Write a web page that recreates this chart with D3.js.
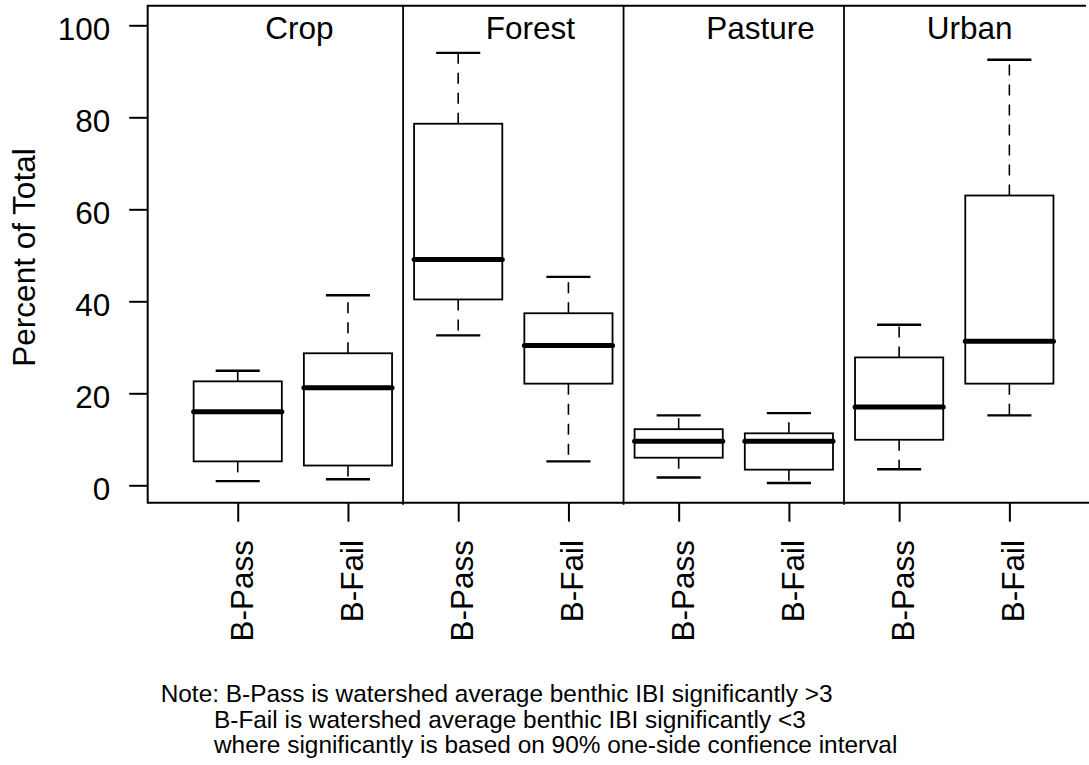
<!DOCTYPE html>
<html>
<head>
<meta charset="utf-8">
<script src="https://cdn.jsdelivr.net/npm/d3@7"></script>
<style>
body { margin: 0; background: #fff; }
text { font-family: "Liberation Sans", Arial, sans-serif; fill: #000; }
</style>
</head>
<body>
<div id="chart"></div>
<script>

// land use groups, two benthic classes each
var groups = ["Crop", "Forest", "Pasture", "Urban"]
var classes = ["B-Pass", "B-Fail"]
var titlePos = [1.25, 3.25, 5.25, 7.25]   // panel title left edge, in box units

// box stats, order: Crop pass/fail, Forest pass/fail, Pasture pass/fail, Urban pass/fail
var lowWhisker  = [0.9, 1.3, 32.6, 5.2, 1.7, 0.5, 3.5, 15.2]
var lowerHinge  = [5.2, 4.3, 40.4, 22.1, 6.0, 3.4, 9.9, 22.1]
var medians     = [16.0, 21.2, 49.1, 30.4, 9.6, 9.6, 17.0, 31.3]
var upperHinge  = [22.6, 28.7, 78.6, 37.4, 12.2, 11.3, 27.8, 63.0]
var highWhisker = [24.9, 41.3, 94.0, 45.3, 15.2, 15.7, 34.9, 92.5]

var yTicks = [0, 20, 40, 60, 80, 100]
var dividers = [2.5, 4.5, 6.5]

var noteLines = [
    "Note: B-Pass is watershed average benthic IBI significantly >3",
    "B-Fail is watershed average benthic IBI significantly <3",
    "where significantly is based on 90% one-side confience interval"
]

w = 1089
h = 765
var frame = {left: 147.7, top: 5.7, bottom: 502.7, right: 1086}
var bigFont = 31.5

var x = d3.scaleLinear().domain([0, 9]).range([127.5, 1119.6])
var y = d3.scaleLinear().domain([0, 100]).range([485.3, 25.3])

var svg = d3.select("#chart")
    .append("svg")
    .attr("width", w)
    .attr("height", h)

var boxes = []
groups.forEach(function (g, i) {
    classes.forEach(function (c, j) {
        var k = i * 2 + j
        boxes.push({pos: k + 1, lo: lowWhisker[k], q1: lowerHinge[k], med: medians[k],
                    q3: upperHinge[k], hi: highWhisker[k]})
    })
})

// frame (right side is cut off in the original)
svg.append("path")
    .attr("d", "M" + frame.right + "," + frame.top + "H" + frame.left + "V" + frame.bottom + "H" + (frame.right + 5))
    .attr("fill", "none")
    .attr("stroke", "#000")
    .attr("stroke-width", 2)

svg.selectAll(".divider")
    .data(dividers)
    .enter()
    .append("line")
    .attr("class", "divider")
    .attr("x1", function (d) { return x(d) })
    .attr("x2", function (d) { return x(d) })
    .attr("y1", frame.top)
    .attr("y2", frame.bottom + 2)
    .attr("stroke", "#000")
    .attr("stroke-width", 1.8)

// panel titles
svg.selectAll(".ptitle")
    .data(groups)
    .enter()
    .append("text")
    .attr("class", "ptitle")
    .attr("x", function (d, i) { return x(titlePos[i]) })
    .attr("y", 38.5)
    .style("font-size", bigFont + "px")
    .text(function (d) { return d })

var half = 0.4, capHalf = 0.2

var bx = svg.selectAll(".bx")
    .data(boxes)
    .enter()
    .append("g")
    .attr("class", "bx")

// whiskers, drawn from the hinge outwards
bx.append("line")
    .attr("x1", function (d) { return x(d.pos) })
    .attr("x2", function (d) { return x(d.pos) })
    .attr("y1", function (d) { return y(d.q3) })
    .attr("y2", function (d) { return y(d.hi) })
    .attr("stroke", "#000").attr("stroke-width", 1.6).attr("stroke-dasharray", "11,9")
bx.append("line")
    .attr("x1", function (d) { return x(d.pos) })
    .attr("x2", function (d) { return x(d.pos) })
    .attr("y1", function (d) { return y(d.q1) })
    .attr("y2", function (d) { return y(d.lo) })
    .attr("stroke", "#000").attr("stroke-width", 1.6).attr("stroke-dasharray", "11,9")

// caps
bx.selectAll(".cap")
    .data(function (d) { return [{pos: d.pos, v: d.hi}, {pos: d.pos, v: d.lo}] })
    .enter()
    .append("line")
    .attr("class", "cap")
    .attr("x1", function (d) { return x(d.pos - capHalf) })
    .attr("x2", function (d) { return x(d.pos + capHalf) })
    .attr("y1", function (d) { return y(d.v) })
    .attr("y2", function (d) { return y(d.v) })
    .attr("stroke", "#000")
    .attr("stroke-width", 2.4)

bx.append("rect")
    .attr("x", function (d) { return x(d.pos - half) })
    .attr("width", function (d) { return x(d.pos + half) - x(d.pos - half) })
    .attr("y", function (d) { return y(d.q3) })
    .attr("height", function (d) { return y(d.q1) - y(d.q3) })
    .attr("fill", "#fff")
    .attr("stroke", "#000")
    .attr("stroke-width", 1.8)

bx.append("line")
    .attr("x1", function (d) { return x(d.pos - half) })
    .attr("x2", function (d) { return x(d.pos + half) })
    .attr("y1", function (d) { return y(d.med) })
    .attr("y2", function (d) { return y(d.med) })
    .attr("stroke", "#000")
    .attr("stroke-width", 5)
    .attr("stroke-linecap", "round")

// y axis
var yAxis = svg.append("g")
    .attr("transform", "translate(" + frame.left + ",0)")
    .call(d3.axisLeft(y).tickValues(yTicks).tickSize(18.5).tickPadding(19))
yAxis.select(".domain").remove()
yAxis.selectAll("line").attr("stroke-width", 2)
yAxis.selectAll("text")
    .attr("dy", 14.5)
    .style("font-size", bigFont + "px")
    .style("font-family", "'Liberation Sans', Arial, sans-serif")

// x axis
var xAxis = svg.append("g")
    .attr("transform", "translate(0," + frame.bottom + ")")
    .call(d3.axisBottom(x).tickValues(d3.range(1, 9))
        .tickFormat(function (d) { return classes[(d - 1) % 2] })
        .tickSize(19))
xAxis.select(".domain").remove()
xAxis.selectAll("line").attr("stroke-width", 2)
xAxis.selectAll("text")
    .attr("transform", "rotate(-90)")
    .attr("text-anchor", "end")
    .attr("x", -37.3)
    .attr("y", 0)
    .attr("dy", 14.5)
    .style("font-size", bigFont + "px")
    .style("font-family", "'Liberation Sans', Arial, sans-serif")

svg.append("text")
    .attr("transform", "translate(34.7,257.5) rotate(-90)")
    .attr("text-anchor", "middle")
    .style("font-size", bigFont + "px")
    .text("Percent of Total")

// footnote
svg.selectAll(".note")
    .data(noteLines)
    .enter()
    .append("text")
    .attr("class", "note")
    .attr("x", function (d, i) { return i == 0 ? 160.7 : 214 })
    .attr("y", function (d, i) { return 702.3 + i * 25.5 })
    .style("font-size", "24.4px")
    .text(function (d) { return d })

</script>
</body>
</html>
